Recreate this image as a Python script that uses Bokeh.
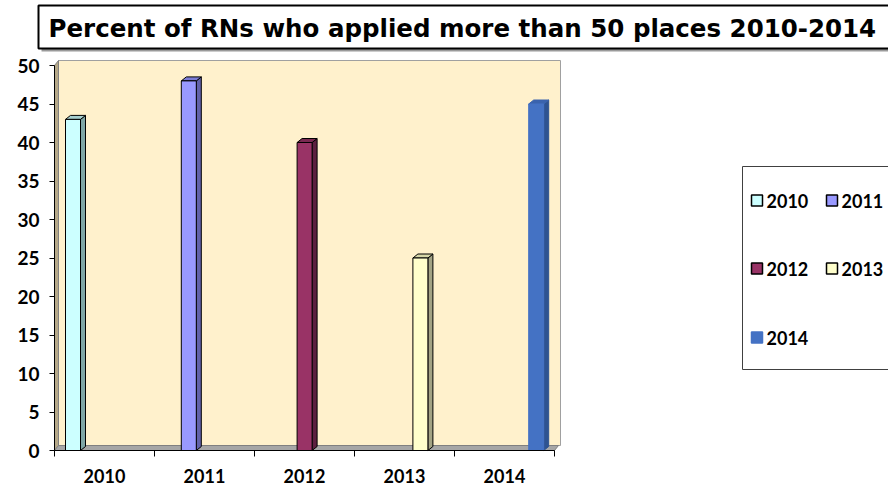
from bokeh.plotting import figure
from bokeh.models import Range1d, FixedTicker
from bokeh.embed import file_html
from bokeh.resources import INLINE
from bokeh.core.properties import value

# ---------------- data ----------------
years = ["2010", "2011", "2012", "2013", "2014"]
percent = [43, 48, 40, 25, 45]
front_colors = ["#CCFFFF", "#9999FF", "#993366", "#FFFFCC", "#4472C4"]
side_colors = ["#7FA6A6", "#6262AA", "#5C1F3F", "#A3A385", "#2E5391"]
top_colors = ["#A6CFCF", "#7C7CD6", "#7A2A52", "#D6D6A8", "#3A63AD"]
outline_colors = ["black", "black", "black", "black", None]
y_ticks = [0, 5, 10, 15, 20, 25, 30, 35, 40, 45, 50]
title_text = "Percent of RNs who applied more than 50 places 2010-2014"

# ---------------- layout ----------------
W, H = 888, 486
AXIS_X = 54          # canvas x of the value axis
AXIS_Y = 450         # canvas y of the category axis
PX_X = 100.0   # pixels per category unit
PX_Y = 7.7     # pixels per percent


def X(px):
    return (px - AXIS_X) / PX_X


def Y(py):
    return (AXIS_Y - py) / PX_Y


DX, DY = 4 / PX_X, 5 / PX_Y          # wall depth
BDX, BDY = 5 / PX_X, 4 / PX_Y        # bar depth
BAR_FIRST, BAR_STEP, BAR_W = 0.11, 1.158, 0.15
YMAX = 50
NCAT = len(years)

p = figure(frame_width=W, frame_height=H,
           x_range=Range1d(X(0), X(W)), y_range=Range1d(Y(H), Y(0)),
           min_border_left=0, min_border_right=0, min_border_top=0,
           min_border_bottom=0, output_backend="svg", toolbar_location=None)
p.outline_line_color = None
p.xgrid.visible = False
p.ygrid.visible = False
p.background_fill_color = "white"
p.border_fill_color = "white"

# walls and floor
p.quad(left=DX, right=NCAT + DX + 0.02, bottom=DY, top=YMAX + DY,
       fill_color="#FFF1CC", line_color="#A0A0A0", line_width=1)
p.patch([0, DX, DX, 0], [0, DY, YMAX + DY, YMAX],
        fill_color="#B5A888", line_color="#808080", line_width=1)
p.patch([0, NCAT, NCAT + DX, DX], [0, 0, DY, DY],
        fill_color="#A6A6A6", line_color="#808080", line_width=1)

# bars
x0s = [BAR_FIRST + i * BAR_STEP for i in range(NCAT)]
x1s = [x + BAR_W for x in x0s]
side_xs = [[a, a + BDX, a + BDX, a] for a in x1s]
side_ys = [[0, BDY, v + BDY, v] for v in percent]
top_xs = [[a, a + BDX, b + BDX, b] for a, b in zip(x0s, x1s)]
top_ys = [[v, v + BDY, v + BDY, v] for v in percent]
for i in range(NCAT):
    lc = outline_colors[i]
    p.patch(side_xs[i], side_ys[i], fill_color=side_colors[i],
            line_color=lc if lc else side_colors[i], line_width=1)
    p.patch(top_xs[i], top_ys[i], fill_color=top_colors[i],
            line_color=lc if lc else top_colors[i], line_width=1)
    p.quad(left=x0s[i], right=x1s[i], bottom=0, top=percent[i],
           fill_color=front_colors[i],
           line_color=lc if lc else front_colors[i], line_width=1)

# axes
FONT = "Lato"
p.yaxis.fixed_location = 0
p.yaxis.ticker = FixedTicker(ticks=y_ticks)
p.yaxis.bounds = (0, YMAX)
p.yaxis.major_tick_out = 5
p.yaxis.major_tick_in = 0
p.yaxis.minor_tick_out = 0
p.yaxis.minor_tick_in = 0
p.yaxis.major_label_standoff = 10
p.yaxis.major_label_text_font = FONT
p.yaxis.major_label_text_font_style = "bold"
p.yaxis.major_label_text_font_size = "19px"
p.yaxis.major_label_text_color = "black"
p.yaxis.axis_line_color = "black"
p.yaxis.major_tick_line_color = "black"

centers = [i + 0.5 for i in range(NCAT)]
bounds_ticks = [i for i in range(NCAT + 1)]
p.xaxis.fixed_location = 0
p.xaxis.ticker = FixedTicker(ticks=centers, minor_ticks=bounds_ticks)
p.xaxis.major_label_overrides = {c: y for c, y in zip(centers, years)}
p.xaxis.bounds = (0, NCAT)
p.xaxis.major_tick_out = 0
p.xaxis.major_tick_in = 0
p.xaxis.minor_tick_out = 6
p.xaxis.minor_tick_in = 0
p.xaxis.major_label_standoff = 12
p.xaxis.major_label_text_font = FONT
p.xaxis.major_label_text_font_style = "bold"
p.xaxis.major_label_text_font_size = "18px"
p.xaxis.major_label_text_color = "black"
p.xaxis.axis_line_color = "black"
p.xaxis.minor_tick_line_color = "black"

# legend (drawn in Excel layout)
p.quad(left=X(742), right=X(900), bottom=Y(369), top=Y(166),
       fill_color="white", line_color="#404040", line_width=1)
col_px = [751, 826]
row_py = [200, 268, 337]
SQ = 11
for i in range(NCAT):
    cx = col_px[i % 2]
    cy = row_py[i // 2]
    lc = outline_colors[i]
    p.quad(left=X(cx), right=X(cx + SQ), bottom=Y(cy + SQ / 2), top=Y(cy - SQ / 2),
           fill_color=front_colors[i], line_color=lc if lc else front_colors[i],
           line_width=1.5)
    p.text(x=[X(cx + SQ + 4)], y=[Y(cy)], text=[years[i]],
           text_font=value(FONT), text_font_style="bold", text_font_size="18px",
           text_baseline="middle", text_align="left", text_color="black")

# title box with shadow
TFONT = "DejaVu Sans"
p.quad(left=X(41), right=X(900), bottom=Y(51), top=Y(8),
       fill_color="#9A9A9A", line_color=None)
p.quad(left=X(38), right=X(900), bottom=Y(48), top=Y(5),
       fill_color="white", line_color="black", line_width=2)
p.text(x=[X(48)], y=[Y(28)], text=[title_text],
       text_font=value(TFONT), text_font_style="bold", text_font_size="24.5px",
       text_baseline="middle", text_align="left", text_color="black")

open("out.html", "w").write(file_html(p, INLINE))
